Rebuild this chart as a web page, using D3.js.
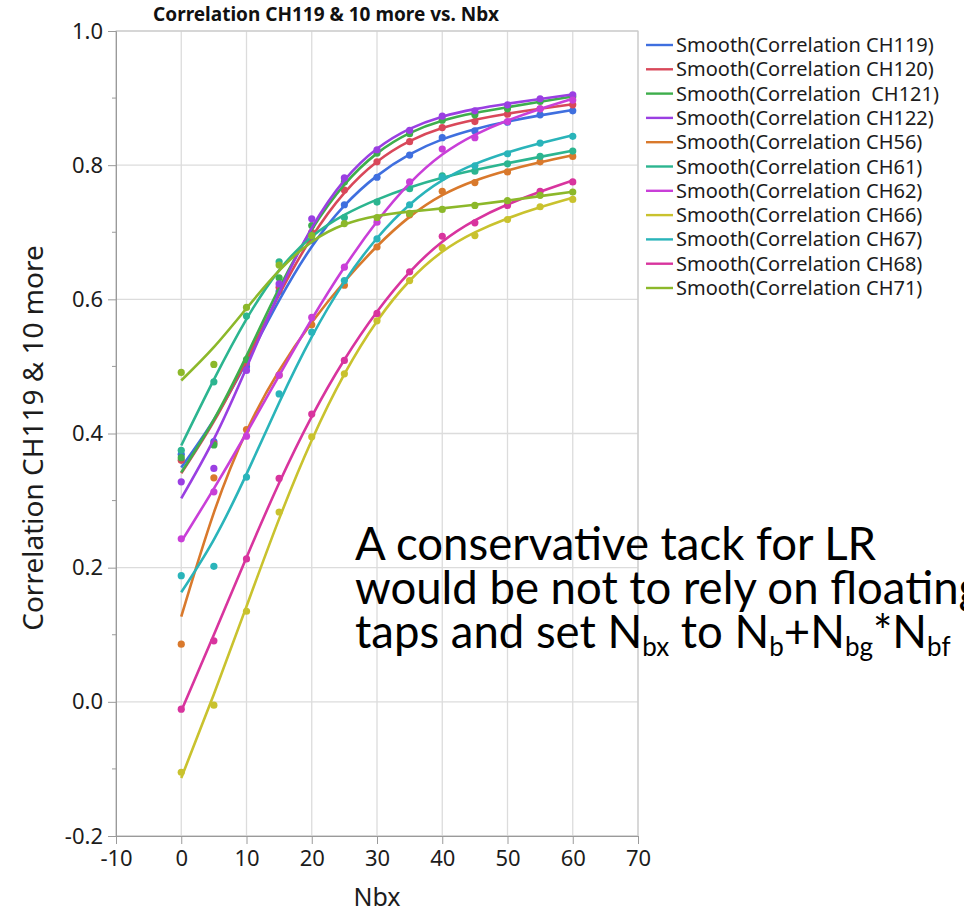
<!DOCTYPE html>
<html>
<head>
<meta charset="utf-8">
<script src="https://cdn.jsdelivr.net/npm/d3@7"></script>
<style>
  html, body { margin: 0; padding: 0; background: #fff; overflow: hidden; }
  svg { display: block; }
  text { font-family: "Noto Sans", sans-serif; }
</style>
</head>
<body>
<svg id="chart" width="964" height="913"></svg>
<script>
// Nbx values shared by every series
const nbx = [0, 5, 10, 15, 20, 25, 30, 35, 40, 45, 50, 55, 60]

const seriesNames = [
    "Smooth(Correlation CH119)", "Smooth(Correlation CH120)", "Smooth(Correlation  CH121)",
    "Smooth(Correlation CH122)", "Smooth(Correlation CH56)", "Smooth(Correlation CH61)",
    "Smooth(Correlation CH62)", "Smooth(Correlation CH66)", "Smooth(Correlation CH67)",
    "Smooth(Correlation CH68)", "Smooth(Correlation CH71)"
]

const seriesColors = [
    "#3f6fdf", "#d9485a", "#3eae4c", "#9a3fe2", "#d9792c", "#2cb590",
    "#c93fd8", "#c9c22e", "#2ab4ba", "#d8349e", "#8cb82a"
]

const ch119 = [0.369, 0.388, 0.500, 0.612, 0.688, 0.741, 0.782, 0.815, 0.841, 0.851, 0.864, 0.875, 0.881]
const ch120 = [0.360, 0.385, 0.505, 0.618, 0.700, 0.763, 0.805, 0.835, 0.856, 0.865, 0.876, 0.884, 0.890]
const ch121 = [0.364, 0.383, 0.510, 0.632, 0.710, 0.775, 0.818, 0.847, 0.867, 0.875, 0.884, 0.895, 0.902]
const ch122 = [0.328, 0.348, 0.494, 0.623, 0.720, 0.781, 0.823, 0.852, 0.873, 0.881, 0.890, 0.899, 0.905]
const ch56  = [0.086, 0.334, 0.406, 0.487, 0.562, 0.621, 0.678, 0.726, 0.761, 0.774, 0.790, 0.805, 0.813]
const ch61  = [0.375, 0.477, 0.575, 0.656, 0.695, 0.722, 0.745, 0.765, 0.784, 0.791, 0.802, 0.813, 0.821]
const ch62  = [0.243, 0.313, 0.396, 0.487, 0.573, 0.648, 0.715, 0.775, 0.824, 0.841, 0.865, 0.884, 0.897]
const ch66  = [-0.105, -0.005, 0.135, 0.283, 0.395, 0.489, 0.568, 0.628, 0.677, 0.695, 0.719, 0.738, 0.749]
const ch67  = [0.188, 0.202, 0.335, 0.459, 0.551, 0.628, 0.690, 0.741, 0.782, 0.799, 0.817, 0.833, 0.843]
const ch68  = [-0.011, 0.091, 0.213, 0.333, 0.429, 0.509, 0.579, 0.641, 0.694, 0.714, 0.740, 0.761, 0.775]
const ch71  = [0.491, 0.503, 0.588, 0.651, 0.695, 0.713, 0.722, 0.728, 0.734, 0.740, 0.747, 0.755, 0.760]

const seriesValues = [ch119, ch120, ch121, ch122, ch56, ch61, ch62, ch66, ch67, ch68, ch71]

const xTicks = [-10, 0, 10, 20, 30, 40, 50, 60, 70]
const yTicks = [-0.2, 0, 0.2, 0.4, 0.6, 0.8, 1.0]
const yMinorTicks = [-0.1, 0.1, 0.3, 0.5, 0.7, 0.9]

const smoothLambda = 120

const plot = {left: 116, right: 638, top: 31, bottom: 836}

// cubic smoothing spline (Reinsch); returns fitted values at the knots
function smoothSpline(xs, ys, lambda) {
    let n = xs.length, m = n - 2
    let h = d3.range(n - 1).map(i => xs[i + 1] - xs[i])
    let Q = xs.map(() => new Array(m).fill(0))
    let R = d3.range(m).map(() => new Array(m).fill(0))
    for (let j = 0; j < m; j++) {
        Q[j][j] = 1 / h[j]
        Q[j + 1][j] = -1 / h[j] - 1 / h[j + 1]
        Q[j + 2][j] = 1 / h[j + 1]
        R[j][j] = (h[j] + h[j + 1]) / 3
        if (j < m - 1) {
            R[j][j + 1] = h[j + 1] / 6
            R[j + 1][j] = h[j + 1] / 6
        }
    }
    let A = R.map((row, i) => row.map((v, j) => v + lambda * d3.sum(Q, q => q[i] * q[j])))
    let b = d3.range(m).map(i => d3.sum(Q, (q, k) => q[i] * ys[k]))
    let gamma = solve(A, b)
    return ys.map((y, k) => y - lambda * d3.sum(gamma, (g, j) => Q[k][j] * g))
}

function solve(A, b) {
    let n = b.length
    let M = A.map((row, i) => row.concat([b[i]]))
    for (let c = 0; c < n; c++) {
        let p = c
        for (let r = c + 1; r < n; r++) {
            if (Math.abs(M[r][c]) > Math.abs(M[p][c])) p = r
        }
        [M[c], M[p]] = [M[p], M[c]]
        for (let r = c + 1; r < n; r++) {
            let f = M[r][c] / M[c][c]
            for (let k = c; k <= n; k++) M[r][k] -= f * M[c][k]
        }
    }
    let x = new Array(n).fill(0)
    for (let r = n - 1; r >= 0; r--) {
        let s = M[r][n]
        for (let k = r + 1; k < n; k++) s -= M[r][k] * x[k]
        x[r] = s / M[r][r]
    }
    return x
}

let svg = d3.select("#chart")

let x = d3.scaleLinear().domain([-10, 70]).range([plot.left, plot.right])
let y = d3.scaleLinear().domain([-0.2, 1.0]).range([plot.bottom, plot.top])

// grid
let grid = svg.append("g").attr("stroke", "#dcdcdc").attr("stroke-width", 1.3)
grid.selectAll("line.gx")
    .data(xTicks)
    .join("line")
        .attr("class", "gx")
        .attr("x1", d => x(d)).attr("x2", d => x(d))
        .attr("y1", plot.top).attr("y2", plot.bottom)
grid.selectAll("line.gy")
    .data(yTicks)
    .join("line")
        .attr("class", "gy")
        .attr("x1", plot.left).attr("x2", plot.right)
        .attr("y1", d => y(d)).attr("y2", d => y(d))

// frame
svg.append("rect")
    .attr("x", plot.left).attr("y", plot.top)
    .attr("width", plot.right - plot.left).attr("height", plot.bottom - plot.top)
    .attr("fill", "none").attr("stroke", "#c8c8c8").attr("stroke-width", 1)

// y axis
let yAxis = svg.append("g")
    .attr("transform", `translate(${plot.left},0)`)
    .call(d3.axisLeft(y).tickValues(yTicks).tickSize(8).tickPadding(5).tickFormat(d => d.toFixed(1)))
yAxis.selectAll("line.minor")
    .data(yMinorTicks)
    .join("line")
        .attr("class", "minor")
        .attr("x1", -4).attr("x2", 0)
        .attr("y1", d => y(d)).attr("y2", d => y(d))
// x axis
let xAxis = svg.append("g")
    .attr("transform", `translate(0,${plot.bottom})`)
    .call(d3.axisBottom(x).tickValues(xTicks).tickSize(8).tickPadding(6).tickFormat(d => String(d)))

for (let ax of [xAxis, yAxis]) {
    ax.select(".domain").attr("stroke", "#9a9a9a")
    ax.selectAll("line").attr("stroke", "#9a9a9a")
    ax.selectAll("text")
        .attr("fill", "#1c1c1c")
        .style("font-family", "'Noto Sans', sans-serif")
        .style("font-size", "22px")
}

// curves and points
let line = d3.line()
    .x(d => x(d.x))
    .y(d => y(d.y))
    .curve(d3.curveNatural)

let series = seriesValues.map((vals, i) => {
    let fit = smoothSpline(nbx, vals, smoothLambda)
    return {
        name: seriesNames[i],
        color: seriesColors[i],
        points: nbx.map((n, k) => ({x: n, y: vals[k]})),
        fit: nbx.map((n, k) => ({x: n, y: fit[k]})),
    }
})

let marks = svg.append("g")
let sg = marks.selectAll("g")
    .data(series)
    .join("g")
sg.append("path")
    .attr("fill", "none")
    .attr("stroke", d => d.color)
    .attr("stroke-width", 2.6)
    .attr("d", d => line(d.fit))
sg.selectAll("circle")
    .data(d => d.points.map(p => ({...p, color: d.color})))
    .join("circle")
        .attr("cx", d => x(d.x))
        .attr("cy", d => y(d.y))
        .attr("r", 3.6)
        .attr("fill", d => d.color)

// title
svg.append("text")
    .attr("x", 326).attr("y", 21)
    .attr("text-anchor", "middle")
    .style("font-size", "19px")
    .style("font-weight", "bold")
    .attr("fill", "#111")
    .text("Correlation CH119 & 10 more vs. Nbx")

// axis titles
svg.append("text")
    .attr("x", 377).attr("y", 906)
    .attr("text-anchor", "middle")
    .style("font-size", "25px")
    .attr("fill", "#1c1c1c")
    .text("Nbx")
svg.append("text")
    .attr("transform", "translate(43,438) rotate(-90)")
    .attr("text-anchor", "middle")
    .style("font-size", "28px")
    .attr("fill", "#1c1c1c")
    .text("Correlation CH119 & 10 more")

// legend
let legend = svg.append("g")
    .selectAll("g")
    .data(series)
    .join("g")
        .attr("transform", (d, i) => `translate(646,${45 + i * 24.3})`)
legend.append("line")
    .attr("x1", 0).attr("x2", 27)
    .attr("stroke", d => d.color)
    .attr("stroke-width", 2.4)
legend.append("text")
    .attr("x", 30).attr("dy", "0.35em")
    .style("font-size", "20px")
    .style("white-space", "pre")
    .attr("fill", "#1c1c1c")
    .text(d => d.name)

// annotation overlay
let note = svg.append("text")
    .style("font-family", "Lato, sans-serif")
    .style("font-size", "45.5px")
    .attr("fill", "#000")
note.append("tspan").attr("x", 355).attr("y", 560).text("A conservative tack for LR")
note.append("tspan").attr("x", 355).attr("y", 604).text("would be not to rely on floating")
let l3 = [["taps and set N", false], ["bx", true], [" to N", false], ["b", true],
          ["+N", false], ["bg", true], ["*N", false], ["bf", true]]
let first = true
for (let [t, sub] of l3) {
    let ts = note.append("tspan").text(t)
    if (first) {
        ts.attr("x", 355).attr("y", 648)
        first = false
    } else {
        ts.attr("dy", sub ? 8 : -8)
    }
    if (sub) ts.style("font-size", "26px")
}
</script>
</body>
</html>
